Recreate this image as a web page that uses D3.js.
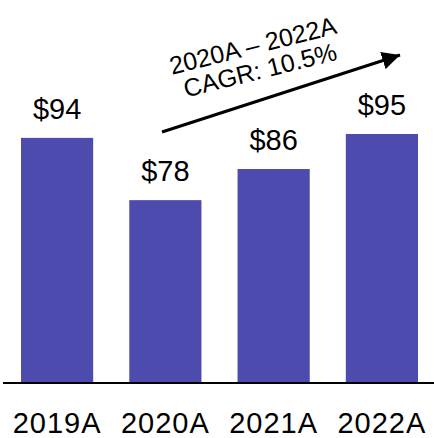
<!DOCTYPE html>
<html>
<head>
<meta charset="utf-8">
<script src="https://cdn.jsdelivr.net/npm/d3@7"></script>
<style>
  body { margin: 0; background: #fff; }
  text { font-family: "Liberation Sans", Arial, sans-serif; fill: #000; }
</style>
</head>
<body>
<script>
var years = ["2019A", "2020A", "2021A", "2022A"];
var revenue = [94, 78, 86, 95];
var valueLabels = ["$94", "$78", "$86", "$95"];
var cagrLines = ["2020A \u2013 2022A", "CAGR: 10.5%"];

var w = 434, h = 438;
var baseY = 383;

var svg = d3.select("body").append("svg")
    .attr("width", w)
    .attr("height", h);

var x = d3.scaleBand()
    .domain(years)
    .range([21, 418])
    .paddingInner(1 / 3)
    .paddingOuter(0);

// axis does not start at zero in the original
var y = d3.scaleLinear()
    .domain([31, 95])
    .range([baseY, 134]);

svg.selectAll(".bar")
    .data(revenue)
    .enter()
    .append("rect")
    .attr("class", "bar")
    .attr("x", function(d, i){ return x(years[i]); })
    .attr("width", x.bandwidth())
    .attr("y", function(d){ return y(d); })
    .attr("height", function(d){ return baseY - y(d); })
    .style("fill", "#4d4cae");

svg.selectAll(".val")
    .data(revenue)
    .enter()
    .append("text")
    .attr("class", "val")
    .attr("x", function(d, i){ return x(years[i]) + x.bandwidth() / 2; })
    .attr("y", function(d){ return y(d) - 19; })
    .attr("text-anchor", "middle")
    .style("font-size", "29px")
    .text(function(d, i){ return valueLabels[i]; });

// baseline
svg.append("line")
    .attr("x1", 3).attr("x2", w)
    .attr("y1", baseY).attr("y2", baseY)
    .style("stroke", "#000")
    .style("stroke-width", 2);

svg.selectAll(".cat")
    .data(years)
    .enter()
    .append("text")
    .attr("class", "cat")
    .attr("x", function(d){ return x(d) + x.bandwidth() / 2; })
    .attr("y", 433)
    .attr("text-anchor", "middle")
    .style("font-size", "29px")
    .style("letter-spacing", "1px")
    .text(function(d){ return d; });

// CAGR arrow
svg.append("defs").append("marker")
    .attr("id", "head")
    .attr("viewBox", "0 0 10 10")
    .attr("refX", 10).attr("refY", 5)
    .attr("markerWidth", 6).attr("markerHeight", 6)
    .attr("markerUnits", "strokeWidth")
    .attr("orient", "auto")
    .append("path")
    .attr("d", "M0,0 L10,5 L0,10 Z")
    .style("fill", "#000");

svg.append("line")
    .attr("x1", 162).attr("y1", 132)
    .attr("x2", 400).attr("y2", 55)
    .style("stroke", "#000")
    .style("stroke-width", 3)
    .attr("marker-end", "url(#head)");

var note = svg.append("g")
    .attr("transform", "translate(255,54) rotate(-14)");

note.selectAll("text")
    .data(cagrLines)
    .enter()
    .append("text")
    .attr("x", function(d, i){ return i; })
    .attr("y", function(d, i){ return i * 25.5; })
    .attr("text-anchor", "middle")
    .style("font-size", "25px")
    .text(function(d){ return d; });
</script>
</body>
</html>
